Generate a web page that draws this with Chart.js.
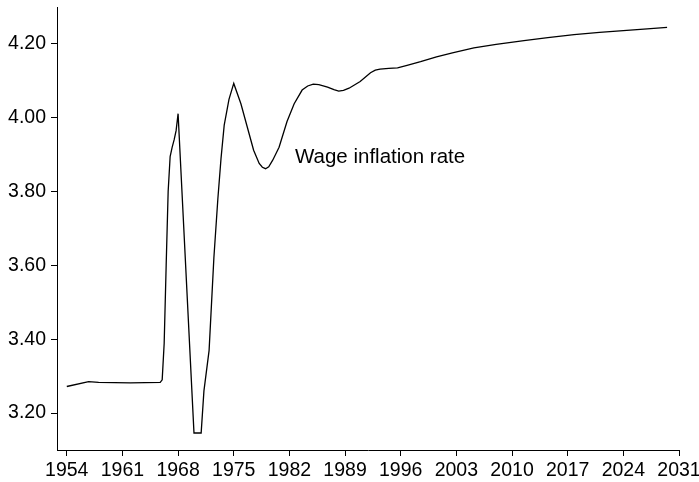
<!DOCTYPE html>
<html>
<head>
<meta charset="utf-8">
<script src="https://cdn.jsdelivr.net/npm/chart.js@4/dist/chart.umd.min.js"></script>
<style>
  html, body { margin: 0; padding: 0; background: #fff; }
  #wrap { width: 699px; height: 482px; position: relative; }
</style>
</head>
<body>
<div id="wrap"><canvas id="chart"></canvas></div>
<script>
"use strict";

// wage inflation rate, by (fractional) year
var years = [
	1954.0, 1956.75, 1958.0, 1962.0, 1965.75, 1966.0, 1966.25, 1966.5, 1966.75,
	1967.0, 1967.25, 1967.5, 1967.75, 1968.0, 1970.0, 1970.9, 1971.25, 1971.9,
	1972.5, 1973.0, 1973.4, 1973.8, 1974.4, 1975.0, 1975.9, 1976.7, 1977.5,
	1978.2, 1978.6, 1979.0, 1979.4, 1979.9, 1980.7, 1981.7, 1982.6, 1983.6,
	1984.3, 1985.0, 1985.7, 1986.8, 1987.6, 1988.2, 1988.8, 1989.5, 1990.9,
	1992.2, 1992.8, 1993.4, 1994.5, 1995.6, 1996.8, 1998.5, 2000.5, 2002.5,
	2005.2, 2008.0, 2011.5, 2014.5, 2017.8, 2021.0, 2024.0, 2027.0, 2029.5
];
var wageInflation = [
	3.272, 3.285, 3.283, 3.282, 3.283, 3.290, 3.389, 3.600, 3.800,
	3.895, 3.920, 3.940, 3.965, 4.011, 3.146, 3.146, 3.260, 3.370,
	3.620, 3.780, 3.890, 3.980, 4.050, 4.093, 4.038, 3.975, 3.912,
	3.876, 3.866, 3.862, 3.867, 3.885, 3.920, 3.990, 4.038, 4.075,
	4.086, 4.091, 4.090, 4.083, 4.076, 4.072, 4.074, 4.080, 4.098,
	4.122, 4.129, 4.132, 4.134, 4.135, 4.142, 4.152, 4.165, 4.176,
	4.189, 4.199, 4.209, 4.217, 4.225, 4.231, 4.236, 4.241, 4.245
];
var xTicks = [1954, 1961, 1968, 1975, 1982, 1989, 1996, 2003, 2010, 2017, 2024, 2031];
var yTicks = [3.2, 3.4, 3.6, 3.8, 4.0, 4.2];
var seriesLabel = 'Wage inflation rate';

var points = years.map(function (yr, i) {
	return {x: yr, y: wageInflation[i]};
});

var FAMILY = '"Liberation Sans", Arial, Helvetica, sans-serif';
var FONT = {family: FAMILY, size: 19.5};

// writes the series name inside the plot, next to the curve
var lineLabel = {
	id: 'lineLabel',
	afterDatasetsDraw: function (chart) {
		var ctx = chart.ctx;
		var xs = chart.scales.x, ys = chart.scales.y;
		ctx.save();
		ctx.font = '20.5px ' + FAMILY;
		ctx.fillStyle = '#000';
		ctx.textAlign = 'left';
		ctx.textBaseline = 'alphabetic';
		ctx.fillText(seriesLabel, xs.getPixelForValue(1982.7), ys.getPixelForValue(3.878));
		ctx.restore();
	}
};

var ctx = document.getElementById('chart').getContext('2d');
var chart = new Chart(ctx, {
	type: 'line',
	data: {
		datasets: [{
			label: seriesLabel,
			data: points,
			borderColor: '#000',
			borderWidth: 1.3,
			pointRadius: 0,
			tension: 0,
			fill: false
		}]
	},
	options: {
		responsive: true,
		maintainAspectRatio: false,
		animation: false,
		layout: {padding: {top: 7, right: 20, left: 0, bottom: 0}},
		plugins: {
			legend: {display: false},
			tooltip: {enabled: false}
		},
		scales: {
			x: {
				type: 'linear',
				min: 1952.77,
				max: 2031,
				afterBuildTicks: function (scale) {
					scale.ticks = xTicks.map(function (v) { return {value: v}; });
				},
				afterFit: function (scale) {
					scale.height = 32;
					scale.paddingLeft = 0;
					scale.paddingRight = 0;
				},
				ticks: {
					color: '#000',
					font: FONT,
					padding: 3,
					maxRotation: 0,
					autoSkip: false,
					callback: function (v) { return String(v); }
				},
				grid: {display: true, drawOnChartArea: false, drawTicks: true, tickLength: 6, color: '#000', lineWidth: 1},
				border: {display: true, color: '#000', width: 1}
			},
			y: {
				type: 'linear',
				min: 3.10,
				max: 4.30,
				afterBuildTicks: function (scale) {
					scale.ticks = yTicks.map(function (v) { return {value: v}; });
				},
				afterFit: function (scale) {
					scale.width = 57;
					scale.paddingTop = 0;
					scale.paddingBottom = 0;
				},
				ticks: {
					color: '#000',
					font: FONT,
					padding: 5,
					autoSkip: false,
					callback: function (v) { return Number(v).toFixed(2); }
				},
				grid: {display: true, drawOnChartArea: false, drawTicks: true, tickLength: 6, color: '#000', lineWidth: 1},
				border: {display: true, color: '#000', width: 1}
			}
		}
	},
	plugins: [lineLabel]
});
</script>
</body>
</html>
